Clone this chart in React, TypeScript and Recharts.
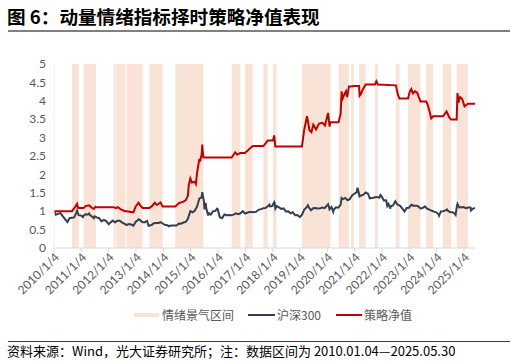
import React from "react";
import { ComposedChart, Line, XAxis, YAxis, ReferenceArea } from "recharts";

const hs300Dates = [
  "2010-01-04","2010-01-29","2010-02-26","2010-03-31","2010-04-30","2010-05-31","2010-07-02","2010-07-30","2010-08-31","2010-09-30","2010-10-29","2010-11-08","2010-11-30","2010-12-31",
  "2011-01-25","2011-01-31","2011-02-28","2011-03-31","2011-04-18","2011-04-29","2011-05-31","2011-06-20","2011-06-30","2011-07-29","2011-08-31","2011-09-30","2011-10-31","2011-11-30","2011-12-30",
  "2012-01-06","2012-01-31","2012-02-29","2012-03-30","2012-04-27","2012-05-31","2012-06-29","2012-07-31","2012-08-31","2012-09-28","2012-10-31","2012-11-30","2012-12-31",
  "2013-01-31","2013-02-06","2013-02-28","2013-03-29","2013-04-26","2013-05-31","2013-06-25","2013-06-28","2013-07-31","2013-08-30","2013-09-30","2013-10-31","2013-11-29","2013-12-31",
  "2014-01-30","2014-02-28","2014-03-20","2014-03-31","2014-04-30","2014-05-30","2014-06-30","2014-07-31","2014-08-29","2014-09-30","2014-10-31","2014-11-28","2014-12-31",
  "2015-01-30","2015-02-27","2015-03-31","2015-04-30","2015-05-29","2015-06-08","2015-06-30","2015-07-08","2015-07-24","2015-07-31","2015-08-26","2015-08-31","2015-09-30","2015-10-30","2015-11-30","2015-12-22","2015-12-31",
  "2016-01-29","2016-02-29","2016-03-31","2016-04-29","2016-05-31","2016-06-30","2016-07-29","2016-08-31","2016-09-30","2016-10-31","2016-11-30","2016-12-30",
  "2017-01-26","2017-02-28","2017-03-31","2017-04-28","2017-05-31","2017-06-30","2017-07-31","2017-08-31","2017-09-29","2017-10-31","2017-11-22","2017-11-30","2017-12-29",
  "2018-01-24","2018-01-31","2018-02-09","2018-02-28","2018-03-30","2018-04-27","2018-05-31","2018-06-29","2018-07-31","2018-08-31","2018-09-28","2018-10-31","2018-11-30","2018-12-28",
  "2019-01-03","2019-01-31","2019-02-28","2019-03-29","2019-04-19","2019-04-30","2019-05-31","2019-06-28","2019-07-31","2019-08-30","2019-09-30","2019-10-31","2019-11-29","2019-12-31",
  "2020-01-14","2020-02-03","2020-02-28","2020-03-23","2020-03-31","2020-04-30","2020-05-29","2020-06-30","2020-07-13","2020-07-31","2020-08-31","2020-09-30","2020-10-30","2020-11-30","2020-12-31",
  "2021-01-29","2021-02-10","2021-02-26","2021-03-09","2021-03-31","2021-04-30","2021-05-31","2021-06-30","2021-07-28","2021-07-30","2021-08-31","2021-09-30","2021-10-29","2021-11-30","2021-12-13","2021-12-31",
  "2022-01-28","2022-02-28","2022-03-15","2022-03-31","2022-04-26","2022-04-29","2022-05-31","2022-06-30","2022-07-29","2022-08-31","2022-09-30","2022-10-31","2022-11-30","2022-12-30",
  "2023-01-31","2023-02-28","2023-03-31","2023-04-28","2023-05-31","2023-06-30","2023-07-31","2023-08-31","2023-09-28","2023-10-31","2023-11-30","2023-12-29",
  "2024-01-31","2024-02-05","2024-02-29","2024-03-29","2024-04-30","2024-05-20","2024-05-31","2024-06-28","2024-07-31","2024-08-30","2024-09-13","2024-09-30","2024-10-08","2024-10-31","2024-11-29","2024-12-31",
  "2025-01-27","2025-02-28","2025-03-31","2025-04-07","2025-04-30","2025-05-30",
];
const hs300Values = [
  1.0,0.906,0.928,0.947,0.868,0.786,0.705,0.811,0.821,0.831,0.956,1.018,0.893,0.885,
  0.84,0.87,0.917,0.912,0.94,0.898,0.851,0.81,0.861,0.831,0.81,0.724,0.762,0.738,0.664,
  0.646,0.697,0.745,0.694,0.743,0.741,0.696,0.66,0.624,0.649,0.638,0.605,0.714,
  0.76,0.78,0.756,0.706,0.694,0.735,0.58,0.612,0.625,0.674,0.681,0.681,0.701,0.659,
  0.623,0.616,0.59,0.607,0.611,0.61,0.612,0.665,0.661,0.693,0.709,0.794,0.999,
  0.971,1.01,1.128,1.343,1.369,1.52,1.265,1.05,1.23,1.08,0.88,0.952,0.906,1.0,1.009,1.07,1.055,
  0.833,0.814,0.91,0.893,0.896,0.892,0.906,0.941,0.92,0.944,1.001,0.937,
  0.958,0.977,0.978,0.973,0.988,1.037,1.057,1.081,1.085,1.133,1.18,1.133,1.14,
  1.245,1.209,1.07,1.138,1.103,1.063,1.076,0.993,0.995,0.943,0.973,0.892,0.898,0.852,
  0.84,0.906,1.038,1.095,1.16,1.107,1.027,1.082,1.085,1.075,1.079,1.1,1.083,1.159,
  1.19,1.05,1.115,0.98,1.043,1.107,1.094,1.178,1.36,1.328,1.362,1.298,1.328,1.431,1.474,
  1.514,1.64,1.509,1.4,1.428,1.449,1.508,1.478,1.33,1.361,1.36,1.377,1.388,1.367,1.44,1.397,
  1.291,1.296,1.14,1.194,1.07,1.136,1.157,1.269,1.18,1.154,1.076,0.992,1.09,1.095,
  1.176,1.149,1.146,1.14,1.074,1.087,1.135,1.065,1.044,1.011,0.989,0.971,
  0.91,0.88,0.995,1.001,1.02,1.05,1.013,0.979,0.974,0.939,0.9,1.136,1.2,1.101,1.108,1.113,
  1.08,1.1,1.1,1.02,1.066,1.086,
];

const strategyDates = [
  "2010-01-04","2010-09-01","2010-10-15","2010-11-08","2010-11-20","2010-12-01",
  "2011-02-03","2011-03-01","2011-04-18","2011-05-20","2011-06-20","2011-07-10","2011-07-19",
  "2012-03-10","2012-04-05","2012-04-15","2012-05-05","2012-06-15","2012-07-20","2012-08-14","2012-08-29","2012-11-30","2012-12-31",
  "2013-02-06","2013-03-01","2013-04-01","2013-07-02","2013-08-01","2013-09-12","2013-10-10","2013-11-27","2013-12-25",
  "2014-06-13","2014-07-31","2014-09-30","2014-10-31","2014-11-28","2014-12-10","2014-12-31",
  "2015-01-20","2015-02-28","2015-03-15","2015-03-31","2015-04-30","2015-05-10","2015-05-31","2015-06-08","2015-06-15","2015-06-24",
  "2016-07-05","2016-08-01","2016-08-20","2016-09-15","2016-10-30","2016-12-28",
  "2017-02-01","2017-03-01","2017-04-12","2017-09-02","2017-10-30",
  "2018-01-08","2018-01-24","2018-02-08","2018-02-24",
  "2019-01-30","2019-02-28","2019-04-08","2019-05-10","2019-06-06","2019-07-01","2019-08-06","2019-09-15","2019-10-31","2019-12-03","2019-12-31",
  "2020-01-14","2020-02-03","2020-02-14","2020-06-02","2020-06-30","2020-07-13","2020-07-24","2020-08-20","2020-09-09","2020-09-25","2020-10-19","2020-11-17","2020-12-24",
  "2021-03-03","2021-03-10","2021-03-25","2021-04-20","2021-05-30","2021-10-01","2021-10-20","2021-11-10",
  "2022-07-08","2022-08-05","2022-08-25","2022-12-17",
  "2023-01-10","2023-01-30","2023-02-20","2023-03-20","2023-04-18","2023-05-10","2023-06-03","2023-08-18","2023-09-05","2023-09-25","2023-10-23","2023-11-17",
  "2024-03-28","2024-05-15","2024-06-20","2024-07-15","2024-09-27","2024-10-08","2024-10-20","2024-11-12","2024-12-10",
  "2025-01-10","2025-02-25","2025-05-30",
];
const strategyValues = [
  1.0,1.0,1.12,1.2,1.1,1.09,
  1.09,1.14,1.16,1.1,1.06,1.12,1.11,
  1.11,1.09,1.09,1.11,1.05,1.02,1.0,1.0,0.97,1.13,
  1.23,1.16,1.09,1.09,1.13,1.23,1.17,1.24,1.13,
  1.13,1.22,1.26,1.3,1.42,1.72,1.89,
  1.78,1.8,1.74,2.05,2.42,2.35,2.55,2.81,2.6,2.46,
  2.46,2.54,2.6,2.54,2.58,2.58,
  2.64,2.7,2.77,2.77,2.92,
  2.92,3.06,2.76,2.76,
  2.76,3.2,3.58,3.2,3.15,3.35,3.22,3.38,3.4,3.33,3.55,
  3.67,3.3,3.42,3.42,3.65,4.26,4.05,4.18,4.26,4.1,4.39,4.39,4.4,
  4.4,4.14,4.18,4.3,4.44,4.44,4.53,4.44,
  4.42,4.16,4.06,4.06,
  4.25,4.32,4.2,4.26,4.22,4.1,3.98,3.98,3.9,3.76,3.52,3.58,
  3.58,3.71,3.55,3.49,3.49,4.21,3.95,4.1,4.05,
  3.85,3.92,3.92,
];

const bandStarts = [
  "2010-09-01","2011-02-03","2012-03-10","2012-04-15","2012-08-29","2013-07-02","2014-06-13",
  "2016-07-05","2016-12-28","2017-09-02","2018-01-08","2019-01-30","2020-06-02","2020-11-17",
  "2021-03-03","2021-10-01","2022-07-08","2022-12-17","2023-08-18","2024-03-28","2024-09-27",
];
const bandEnds = [
  "2010-12-01","2011-07-19","2012-04-05","2012-08-14","2013-04-01","2013-12-25","2015-06-24",
  "2016-10-30","2017-04-12","2017-10-30","2018-02-24","2020-02-14","2020-10-19","2020-12-24",
  "2021-05-30","2021-11-10","2022-08-25","2023-06-03","2023-11-17","2024-07-15","2025-02-25",
];

const xTickLabels = [
  "2010/1/4","2011/1/4","2012/1/4","2013/1/4","2014/1/4","2015/1/4","2016/1/4","2017/1/4",
  "2018/1/4","2019/1/4","2020/1/4","2021/1/4","2022/1/4","2023/1/4","2024/1/4","2025/1/4",
];
const yTicks = [0, 0.5, 1, 1.5, 2, 2.5, 3, 3.5, 4, 4.5, 5];

const toTs = (s: string) => {
  const [y, m, d] = s.split(/[-/]/).map(Number);
  return Date.UTC(y, m - 1, d);
};

const hs300Data = hs300Dates.map((d, i) => ({ t: toTs(d), hs: hs300Values[i] }));
const strategyData = strategyDates.map((d, i) => ({ t: toTs(d), st: strategyValues[i] }));
const xTicks = xTickLabels.map(toTs);
const labelByTs: Record<number, string> = {};
xTickLabels.forEach((l) => (labelByTs[toTs(l)] = l));
const domainStart = toTs("2010-01-04");
const domainEnd = toTs("2025-05-30");

const LATIN = "Lato, 'Noto Sans CJK SC', sans-serif";
const CJK = "'Noto Sans CJK SC', Lato, sans-serif";

const XTick = (props: any) => {
  const { x, y, payload } = props;
  const tx = x + 3;
  const ty = y + 1;
  return (
    <text
      x={tx}
      y={ty}
      transform={`rotate(-45 ${tx} ${ty})`}
      textAnchor="end"
      dy="0.35em"
      fontSize={12}
      fill="#595959"
      fontFamily={LATIN}
    >
      {labelByTs[payload.value] ?? ""}
    </text>
  );
};

export default function App() {
  return (
    <div style={{ position: "absolute", left: 0, top: 0, width: 516, height: 364, background: "#fff", overflow: "hidden" }}>
      <div
        style={{
          position: "absolute",
          left: 7,
          top: 3,
          fontFamily: CJK,
          fontWeight: 700,
          fontSize: 18.6,
          lineHeight: "26px",
          color: "#000",
          whiteSpace: "nowrap",
        }}
      >
        图 6：动量情绪指标择时策略净值表现
      </div>
      <div style={{ position: "absolute", left: 8, top: 30, width: 502, height: 2, background: "#7f7f7f" }} />

      <div style={{ position: "absolute", left: 0, top: 0 }}>
        <ComposedChart width={516} height={364} margin={{ top: 64, right: 41, left: 0, bottom: 56 }}>
          <XAxis
            dataKey="t"
            type="number"
            domain={[domainStart, domainEnd]}
            ticks={xTicks}
            allowDataOverflow
            interval={0}
            height={60}
            axisLine={{ stroke: "#D9D9D9" }}
            tickLine={{ stroke: "#D9D9D9" }}
            tickSize={4}
            tick={<XTick />}
          />
          <YAxis
            type="number"
            domain={[0, 5]}
            ticks={yTicks}
            interval={0}
            width={54}
            axisLine={{ stroke: "#FBEEE8" }}
            tickLine={false}
            tick={{ fontSize: 12, fill: "#595959", fontFamily: LATIN }}
          />
          {bandStarts.map((s, i) => (
            <ReferenceArea
              key={s}
              x1={toTs(s)}
              x2={toTs(bandEnds[i])}
              y1={0}
              y2={5}
              fill="#F9E3D6"
              fillOpacity={1}
              stroke="none"
              ifOverflow="hidden"
            />
          ))}
          <Line
            data={hs300Data}
            dataKey="hs"
            type="linear"
            stroke="#333F50"
            strokeWidth={2}
            dot={false}
            isAnimationActive={false}
          />
          <Line
            data={strategyData}
            dataKey="st"
            type="linear"
            stroke="#C00000"
            strokeWidth={2}
            dot={false}
            isAnimationActive={false}
          />
        </ComposedChart>
      </div>

      <div style={{ position: "absolute", left: 134, top: 313, width: 25, height: 4, background: "#F9E3D6" }} />
      <div style={{ position: "absolute", left: 162, top: 306, fontFamily: CJK, fontSize: 12, lineHeight: "18px", color: "#595959", whiteSpace: "nowrap" }}>
        情绪景气区间
      </div>
      <div style={{ position: "absolute", left: 248, top: 314, width: 27, height: 2, background: "#333F50" }} />
      <div style={{ position: "absolute", left: 277, top: 306, fontFamily: CJK, fontSize: 12, lineHeight: "18px", color: "#595959", whiteSpace: "nowrap" }}>
        沪深300
      </div>
      <div style={{ position: "absolute", left: 336, top: 314, width: 26, height: 2, background: "#C00000" }} />
      <div style={{ position: "absolute", left: 364, top: 306, fontFamily: CJK, fontSize: 12, lineHeight: "18px", color: "#595959", whiteSpace: "nowrap" }}>
        策略净值
      </div>

      <div style={{ position: "absolute", left: 8, top: 341, width: 502, height: 1, background: "#404040" }} />
      <div style={{ position: "absolute", left: 7, top: 342, fontFamily: CJK, fontSize: 13, lineHeight: "18px", color: "#000", whiteSpace: "nowrap" }}>
        资料来源：Wind，光大证券研究所；注：数据区间为 2010.01.04—2025.05.30
      </div>
    </div>
  );
}
